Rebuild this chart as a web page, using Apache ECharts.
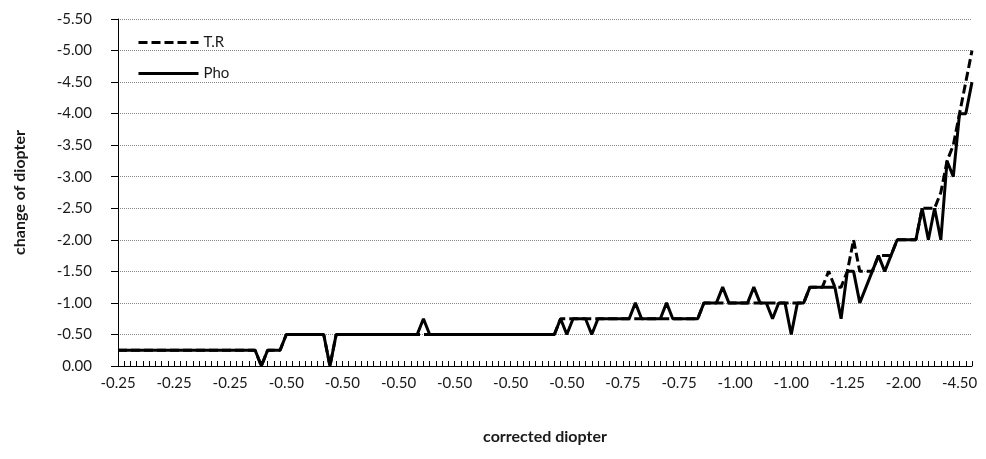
<!DOCTYPE html>
<html>
<head>
<meta charset="utf-8">
<title>change of diopter</title>
<script src="https://cdn.jsdelivr.net/npm/echarts@6/dist/echarts.min.js"></script>
<style>
    html, body { margin: 0; padding: 0; background: #fff; }
    #chartmain { width: 986px; height: 459px; }
</style>
</head>
<body>
<div id="chartmain"></div>
<script>
// corrected diopter per case, as [label, count] runs (138 cases)
var cdRuns = [
    ['-0.25', 27], ['-0.50', 46], ['-0.75', 21], ['-1.00', 17], ['-1.25', 10],
    ['-1.50', 2], ['-1.75', 2], ['-2.00', 4], ['-2.50', 3], ['-3.00', 2],
    ['-3.50', 1], ['-4.50', 1], ['-5.00', 2]
];

// T.R
var trData = [
    -0.25, -0.25, -0.25, -0.25, -0.25, -0.25, -0.25, -0.25, -0.25, -0.25,
    -0.25, -0.25, -0.25, -0.25, -0.25, -0.25, -0.25, -0.25, -0.25, -0.25,
    -0.25, -0.25, -0.25, 0, -0.25, -0.25, -0.25, -0.5, -0.5, -0.5,
    -0.5, -0.5, -0.5, -0.5, 0, -0.5, -0.5, -0.5, -0.5, -0.5,
    -0.5, -0.5, -0.5, -0.5, -0.5, -0.5, -0.5, -0.5, -0.5, -0.5,
    -0.5, -0.5, -0.5, -0.5, -0.5, -0.5, -0.5, -0.5, -0.5, -0.5,
    -0.5, -0.5, -0.5, -0.5, -0.5, -0.5, -0.5, -0.5, -0.5, -0.5,
    -0.5, -0.75, -0.75, -0.75, -0.75, -0.75, -0.75, -0.75, -0.75, -0.75,
    -0.75, -0.75, -0.75, -0.75, -0.75, -0.75, -0.75, -0.75, -0.75, -0.75,
    -0.75, -0.75, -0.75, -0.75, -1, -1, -1, -1, -1, -1,
    -1, -1, -1, -1, -1, -1, -1, -1, -1, -1,
    -1, -1.25, -1.25, -1.25, -1.5, -1.25, -1.25, -1.5, -2, -1.5,
    -1.5, -1.5, -1.75, -1.75, -1.75, -2, -2, -2, -2, -2.5,
    -2.5, -2.5, -2.75, -3.25, -3.5, -4, -4.5, -5
];

// Pho
var phoData = [
    -0.25, -0.25, -0.25, -0.25, -0.25, -0.25, -0.25, -0.25, -0.25, -0.25,
    -0.25, -0.25, -0.25, -0.25, -0.25, -0.25, -0.25, -0.25, -0.25, -0.25,
    -0.25, -0.25, -0.25, 0, -0.25, -0.25, -0.25, -0.5, -0.5, -0.5,
    -0.5, -0.5, -0.5, -0.5, 0, -0.5, -0.5, -0.5, -0.5, -0.5,
    -0.5, -0.5, -0.5, -0.5, -0.5, -0.5, -0.5, -0.5, -0.5, -0.75,
    -0.5, -0.5, -0.5, -0.5, -0.5, -0.5, -0.5, -0.5, -0.5, -0.5,
    -0.5, -0.5, -0.5, -0.5, -0.5, -0.5, -0.5, -0.5, -0.5, -0.5,
    -0.5, -0.75, -0.5, -0.75, -0.75, -0.75, -0.5, -0.75, -0.75, -0.75,
    -0.75, -0.75, -0.75, -1, -0.75, -0.75, -0.75, -0.75, -1, -0.75,
    -0.75, -0.75, -0.75, -0.75, -1, -1, -1, -1.25, -1, -1,
    -1, -1, -1.25, -1, -1, -0.75, -1, -1, -0.5, -1,
    -1, -1.25, -1.25, -1.25, -1.25, -1.25, -0.75, -1.5, -1.5, -1,
    -1.25, -1.5, -1.75, -1.5, -1.75, -2, -2, -2, -2, -2.5,
    -2, -2.5, -2, -3.25, -3, -4, -4, -4.5
];

var seriesNames = ['T.R', 'Pho'];

var categories = [];
cdRuns.forEach(function (r) {
    for (var k = 0; k < r[1]; k++) categories.push(r[0]);
});

var txt = { fontFamily: 'Lato', fontSize: 15, color: '#1a1a1a' };
var nameTxt = { fontFamily: 'Lato', fontSize: 16, fontWeight: 'bold', color: '#1a1a1a' };

var myChart = echarts.init(document.getElementById('chartmain'));
var option = {
    backgroundColor: '#fff',
    animation: false,
    grid: { left: 118, right: 14, top: 19, bottom: 93 },
    legend: {
        orient: 'vertical',
        left: 132,
        top: 30,
        itemWidth: 60,
        itemHeight: 14,
        itemGap: 16,
        data: seriesNames,
        textStyle: txt,
        // line only, no marker in the key
        itemStyle: { opacity: 0 },
        lineStyle: { width: 3 }
    },
    xAxis: {
        type: 'category',
        data: categories,
        boundaryGap: false,
        name: 'corrected diopter',
        nameLocation: 'middle',
        nameGap: 63,
        nameTextStyle: nameTxt,
        axisLine: { lineStyle: { color: '#000', width: 1 } },
        axisTick: { show: true, inside: true, length: 5, interval: 0, lineStyle: { color: '#000' } },
        axisLabel: { interval: 8, margin: 10, fontFamily: 'Lato', fontSize: 15, color: '#1a1a1a' },
        splitLine: { show: false }
    },
    yAxis: {
        type: 'value',
        inverse: true,
        min: -5.5,
        max: 0,
        interval: 0.5,
        name: 'change of diopter',
        nameLocation: 'middle',
        nameGap: 90,
        nameRotate: 90,
        nameTextStyle: nameTxt,
        axisLine: { show: true, lineStyle: { color: '#000', width: 1 } },
        axisTick: { show: true, length: 7, lineStyle: { color: '#000' } },
        axisLabel: {
            margin: 26,
            fontFamily: 'Lato', fontSize: 15, color: '#1a1a1a',
            formatter: function (v) { return v.toFixed(2); }
        },
        splitLine: { lineStyle: { type: 'dotted', color: '#888', width: 1 } }
    },
    series: [
        {
            name: seriesNames[0],
            type: 'line',
            data: trData,
            symbol: 'none',
            lineStyle: { color: '#000', width: 3, type: [9, 4] },
            itemStyle: { color: '#000' }
        },
        {
            name: seriesNames[1],
            type: 'line',
            data: phoData,
            symbol: 'none',
            lineStyle: { color: '#000', width: 3, type: 'solid' },
            itemStyle: { color: '#000' }
        }
    ]
};
myChart.setOption(option);
</script>
</body>
</html>
